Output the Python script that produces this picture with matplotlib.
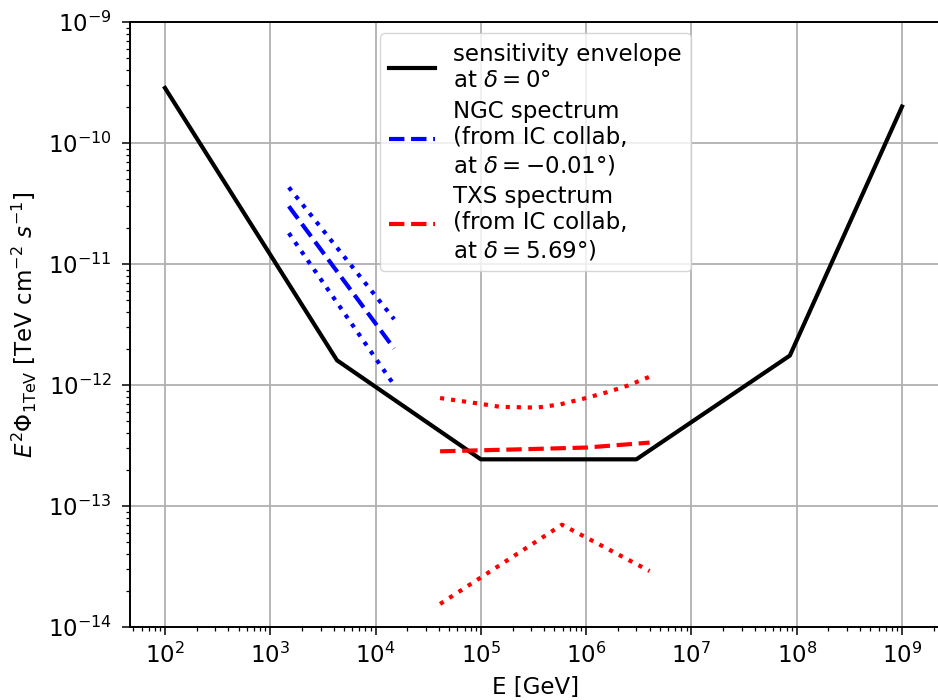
import matplotlib
matplotlib.use("Agg")
import matplotlib.pyplot as plt

# Sensitivity envelope at delta = 0 deg
sens_E = [1e2, 4.3e3, 1.0e5, 3.0e6, 8.6e7, 1e9]
sens_flux = [2.85e-10, 1.6e-12, 2.43e-13, 2.43e-13, 1.75e-12, 2.0e-10]

# NGC spectrum
ngc_E = [1.5e3, 1.5e4]
ngc_flux = [3.0e-11, 2.0e-12]
ngc_upper = [4.3e-11, 3.5e-12]
ngc_lower = [1.8e-11, 1.0e-12]

# TXS spectrum
txs_E = [4.1e4, 2.35e5, 1.0e6, 4.0e6]
txs_flux = [2.83e-13, 2.94e-13, 3.04e-13, 3.34e-13]
txs_upper_E = [4.1e4, 9.8e4, 1.52e5, 3.4e5, 5.6e5, 9.4e5, 1.57e6, 2.5e6, 4.1e6]
txs_upper = [7.8e-13, 7.0e-13, 6.6e-13, 6.5e-13, 6.9e-13, 7.7e-13, 8.7e-13, 9.9e-13, 1.18e-12]
txs_lower_E = [4.1e4, 5.9e5, 4.0e6]
txs_lower = [1.55e-14, 7.0e-14, 2.9e-14]

labels = [
    "sensitivity envelope\nat $\\delta = 0°$",
    "NGC spectrum\n(from IC collab,\nat $\\delta = -0.01°$)",
    "TXS spectrum\n(from IC collab,\nat $\\delta = 5.69°$)",
]

plt.rcParams['font.size'] = 16.5
plt.rcParams['xtick.major.size'] = 6
plt.rcParams['ytick.major.size'] = 6
plt.rcParams['xtick.minor.size'] = 3.2
plt.rcParams['ytick.minor.size'] = 3.2
plt.rcParams['xtick.major.width'] = 1.1
plt.rcParams['ytick.major.width'] = 1.1
plt.rcParams['xtick.minor.width'] = 0.9
plt.rcParams['ytick.minor.width'] = 0.9
plt.rcParams['xtick.major.pad'] = 5
plt.rcParams['ytick.major.pad'] = 7

fig = plt.figure(figsize=(9.38, 7.0), dpi=100)
ax = fig.add_axes([0.1386, 0.1043, 0.8646, 0.8643])

ax.plot(sens_E, sens_flux, color='black', lw=3, label=labels[0])
ax.plot(ngc_E, ngc_flux, color='blue', lw=3, ls='--', label=labels[1])
ax.plot(ngc_E, ngc_upper, color='blue', lw=3, ls=':')
ax.plot(ngc_E, ngc_lower, color='blue', lw=3, ls=':')
ax.plot(txs_E, txs_flux, color='red', lw=3, ls='--', label=labels[2])
ax.plot(txs_upper_E, txs_upper, color='red', lw=3, ls=':')
ax.plot(txs_lower_E, txs_lower, color='red', lw=3, ls=':')

ax.set_xscale('log')
ax.set_yscale('log')
ax.set_xlim(10**1.668, 10**9.37)
ax.set_ylim(1e-14, 1e-9)
ax.grid(True, which='major', color='#b0b0b0', lw=1.3)
for s in ax.spines.values():
    s.set_linewidth(1.4)
ax.set_xlabel('E [GeV]', labelpad=6)
ax.set_ylabel(r'$E^2\Phi_{\rm 1TeV}$ [TeV cm$^{-2}$ $s^{-1}$]', labelpad=6)
ax.legend(loc='upper center', labelspacing=0.33)

fig.savefig('out.png', dpi=100)
